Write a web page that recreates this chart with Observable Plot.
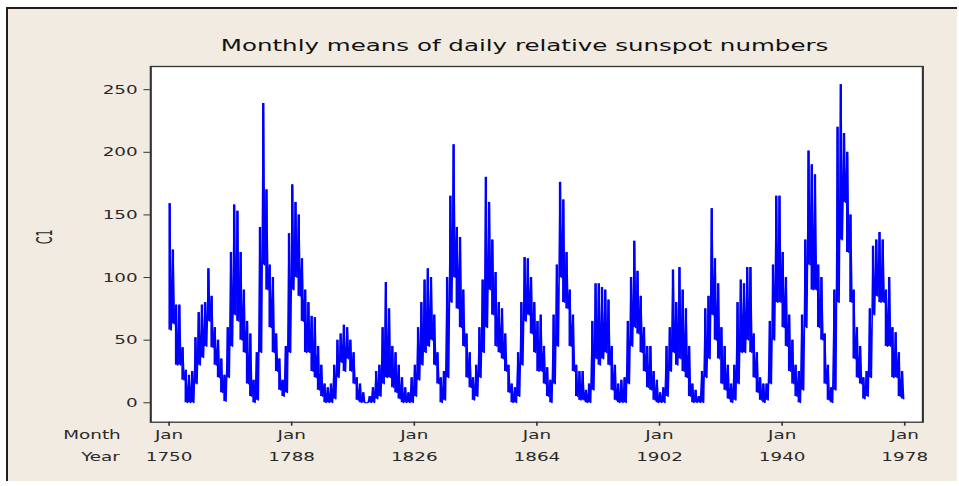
<!DOCTYPE html>
<html><head><meta charset="utf-8">
<script src="https://cdn.jsdelivr.net/npm/d3@7"></script>
<script src="https://cdn.jsdelivr.net/npm/@observablehq/plot@0.6"></script>
<style>
html,body{margin:0;padding:0;background:#fff;width:959px;height:486px;overflow:hidden}
#bg{position:absolute;left:6px;top:7px;width:951px;height:474px;background:#f1ebe2;border-left:2px solid #1e1e1e;border-top:2px solid #1e1e1e;box-sizing:border-box}
#chart{position:absolute;left:0;top:0;width:587px;height:486px;transform:scaleX(1.6337);transform-origin:0 0}
</style></head>
<body><div id="bg"></div><div id="chart"></div>
<script>
// Title and axis texts
const title = "Monthly means of daily relative sunspot numbers";
const yLabel = "C1";
const yTicks = [0, 50, 100, 150, 200, 250];
const xTickYears = [1750, 1788, 1826, 1864, 1902, 1940, 1978];
const xTickMonth = "Jan";

// Years as labelled on the time axis (first year of data: 1750)
const firstYear = 1750;
// Highest monthly mean within each year
const hi = [
  159,122,78,78,44,26,22,25,52,72,
  78,80,107,85,60,50,35,22,60,120,
  158,153,120,90,65,55,18,40,140,239,
  170,110,100,55,35,18,45,135,174,160,
  150,115,90,80,69,68,45,30,15,12,
  15,30,50,55,62,60,50,40,20,15,
  8,0,5,12,25,30,60,96,75,45,
  40,30,20,12,8,20,30,60,80,98,
  107,100,70,40,20,25,100,165,206,140,
  132,90,55,40,20,30,60,98,180,160,
  130,104,80,75,55,30,15,12,40,80,
  116,115,100,80,65,70,45,28,18,70,
  110,176,162,120,90,70,30,25,25,10,
  15,65,95,95,92,90,82,45,30,15,
  18,20,65,100,129,105,85,60,45,45,
  25,18,8,12,45,60,106,80,108,90,
  75,45,15,10,5,25,75,85,155,115,
  95,60,45,30,15,30,80,98,95,108,
  108,55,40,20,15,15,65,110,165,165,
  120,100,70,50,30,25,70,130,201,190,
  182,110,100,55,30,12,90,220,254,215,
  200,150,90,60,45,20,25,75,125,130,
  136,130,90,100,60,56,40,25
];
// Lowest monthly mean within each year
const lo = [
  58,63,30,30,18,0,0,0,15,30,
  36,45,65,44,30,20,8,1,20,45,
  70,65,50,40,15,5,0,2,40,110,
  90,60,40,25,10,5,8,40,90,100,
  85,65,40,40,25,20,10,5,0,0,
  0,3,20,32,25,35,25,15,2,0,
  0,0,0,0,3,5,15,20,20,12,
  8,3,0,0,0,0,5,18,30,40,
  45,50,30,15,0,2,20,80,100,75,
  60,45,20,12,2,5,20,40,60,90,
  70,45,40,35,25,8,0,0,5,30,
  65,70,55,40,25,25,15,5,0,15,
  45,100,80,75,45,25,5,2,2,0,
  0,10,35,30,35,40,30,10,2,0,
  0,0,15,45,60,55,40,25,12,10,
  2,0,0,0,5,25,40,30,35,25,
  20,5,0,0,0,0,20,35,70,50,
  35,15,10,3,0,2,15,40,40,50,
  40,20,8,2,0,2,15,50,80,80,
  60,45,25,15,5,0,10,60,110,90,
  90,60,50,15,2,0,10,80,130,160,
  120,80,35,20,15,3,5,20,70,85,
  80,80,45,45,20,20,5,3
];

// per-year range records and the month-to-month trace through them
const yearly = hi.map((h, i) => ({yr: firstYear + i, hi: h, lo: lo[i]}));
const series = [];
yearly.forEach(d => {
  series.push({t: d.yr + 0.2, v: d.hi});
  series.push({t: d.yr + 0.65, v: d.lo});
});

const W = 587, H = 486;
const font = "'DejaVu Sans Condensed', 'DejaVu Sans', sans-serif";
const blue = "#0000ff";

const chart = Plot.plot({
  width: W,
  height: H,
  marginLeft: 91.8,
  marginRight: 22.6,
  marginTop: 66,
  marginBottom: 64.3,
  x: {type: "linear", domain: [1744.33, 1983.62]},
  y: {domain: [-15.5, 268.5]},
  style: {background: "transparent", fontFamily: font, fontSize: "12.5px", color: "#2a2a2a", overflow: "visible"},
  marks: [
    Plot.frame({fill: "white", stroke: null}),
    Plot.rect(yearly, {x1: d => d.yr + 0.05, x2: d => d.yr + 0.8, y1: "lo", y2: "hi", fill: blue}),
    Plot.line(series, {x: "t", y: "v", stroke: blue, strokeWidth: 1}),
    Plot.frame({stroke: "#333", strokeWidth: 1.3}),
    Plot.axisY({ticks: yTicks, tickSize: 4, tickPadding: 4, label: null, stroke: "#333"}),
    Plot.axisX({ticks: xTickYears, tickSize: 4, tickFormat: () => "", label: null, stroke: "#333"}),
    Plot.text(xTickYears, {x: d => d, text: () => xTickMonth, frameAnchor: "bottom", dy: 16.3}),
    Plot.text(xTickYears, {x: d => d, text: d => String(d), frameAnchor: "bottom", dy: 38.6}),
    Plot.text(["Month"], {text: d => d, frameAnchor: "bottom-left", dx: -18.4, dy: 16.3, textAnchor: "end"}),
    Plot.text(["Year"], {text: d => d, frameAnchor: "bottom-left", dx: -19, dy: 38.6, textAnchor: "end"}),
    Plot.text([yLabel], {text: d => d, frameAnchor: "left", dx: -64.3, rotate: -90}),
    Plot.text([title], {text: d => d, frameAnchor: "top", dx: -7.5, dy: -27, fontSize: 16.7, fill: "#111"})
  ]
});
document.getElementById("chart").appendChild(chart);
</script></body></html>
